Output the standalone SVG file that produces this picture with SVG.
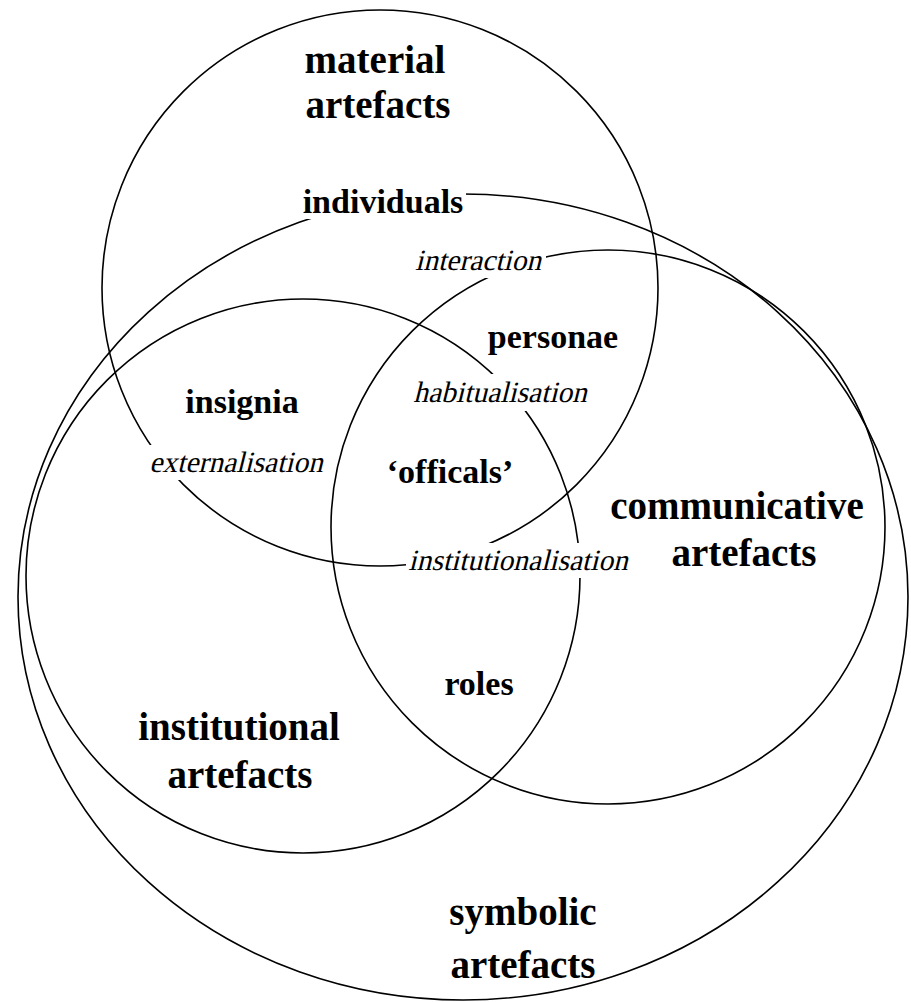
<svg xmlns="http://www.w3.org/2000/svg" width="911" height="1002" viewBox="0 0 911 1002">
<style>
.c{fill:none;stroke:#000;stroke-width:1.6}
.bg{fill:#fff;stroke:none}
.b{font-family:"Liberation Serif","Times New Roman",serif;font-weight:bold;fill:#000;text-anchor:middle}
.s{font-size:34px}
.L{font-size:39px}
.i{font-family:"Liberation Serif","Times New Roman",serif;font-size:29.5px;fill:#000;text-anchor:middle}
</style>
<rect width="911" height="1002" fill="#fff"/>
<g id="connectors">
<circle id="material-circle" class="c" cx="380" cy="288" r="278"/>
<circle id="institutional-circle" class="c" cx="303" cy="576" r="277"/>
<circle id="communicative-circle" class="c" cx="608" cy="527" r="277"/>
<ellipse id="symbolic-ellipse" class="c" cx="463" cy="597" rx="445" ry="403"/>
</g>
<g id="material-artefacts"><text class="b L" x="375" y="73">material</text><text class="b L" x="378" y="118">artefacts</text></g>
<g id="individuals"><rect class="bg" x="300" y="186" width="166" height="33"/><text class="b s" x="383" y="213">individuals</text></g>
<g id="interaction"><rect class="bg" x="410" y="249" width="136" height="29"/><text class="i" transform="translate(478,270) skewX(-14)">interaction</text></g>
<g id="personae"><text class="b s" x="553" y="348">personae</text></g>
<g id="habitualisation"><rect class="bg" x="409" y="374" width="184" height="37"/><text class="i" transform="translate(500,402) skewX(-14)">habitualisation</text></g>
<g id="insignia"><text class="b s" x="242" y="413">insignia</text></g>
<g id="externalisation"><rect class="bg" x="144" y="445" width="183" height="35"/><text class="i" transform="translate(236,472) skewX(-14)">externalisation</text></g>
<g id="officals"><text class="b s" x="450" y="483">‘officals’</text></g>
<g id="communicative-artefacts"><text class="b L" x="737" y="519">communicative</text><text class="b L" x="744" y="566">artefacts</text></g>
<g id="institutionalisation"><rect class="bg" x="406" y="543" width="227" height="35"/><text class="i" transform="translate(518,570) skewX(-14)">institutionalisation</text></g>
<g id="roles"><text class="b s" x="479" y="695">roles</text></g>
<g id="institutional-artefacts"><text class="b L" x="239" y="740">institutional</text><text class="b L" x="240" y="788">artefacts</text></g>
<g id="symbolic-artefacts"><text class="b L" x="523" y="925">symbolic</text><text class="b L" x="523" y="978">artefacts</text></g>
</svg>
